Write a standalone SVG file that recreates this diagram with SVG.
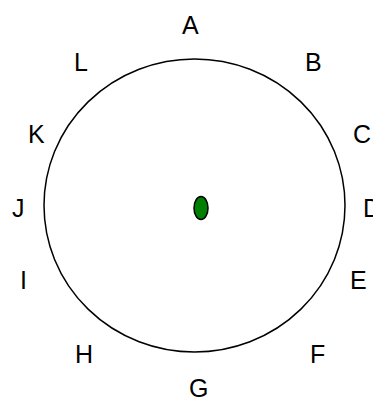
<svg xmlns="http://www.w3.org/2000/svg" width="373" height="401" viewBox="0 0 373 401">
<style>
.lbl{font-family:"Liberation Sans",Arial,sans-serif;font-size:25px;fill:#000}
</style>
<rect width="373" height="401" fill="#fff"/>
<g id="ring"><ellipse cx="194.5" cy="205.5" rx="150.5" ry="146.5" fill="none" stroke="#000" stroke-width="1.5"/></g>
<g id="center"><ellipse cx="201" cy="208" rx="7" ry="11.5" fill="#008000" stroke="#000" stroke-width="1.5"/></g>
<g id="labels">
<text class="lbl" x="182" y="34">A</text>
<text class="lbl" x="305" y="70.5">B</text>
<text class="lbl" x="353" y="143">C</text>
<text class="lbl" x="363" y="217">D</text>
<text class="lbl" x="350" y="289">E</text>
<text class="lbl" x="310" y="363">F</text>
<text class="lbl" x="189" y="397">G</text>
<text class="lbl" x="75" y="363">H</text>
<text class="lbl" x="20" y="289">I</text>
<text class="lbl" x="12" y="217">J</text>
<text class="lbl" x="28" y="143">K</text>
<text class="lbl" x="74" y="70.5">L</text>
</g>
</svg>
